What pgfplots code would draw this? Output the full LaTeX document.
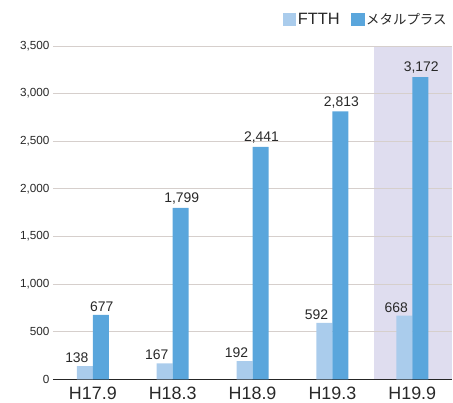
\documentclass[border=0pt]{standalone}
\usepackage{pgfplots}
\pgfplotsset{compat=1.18}
\usepackage{fontspec}
\setmainfont{Liberation Sans}
\newfontfamily\jp{Noto Sans CJK JP}
\definecolor{ftth}{RGB}{170,204,236}
\definecolor{metal}{RGB}{90,166,220}
\definecolor{hl}{RGB}{223,221,239}
\definecolor{gridc}{RGB}{214,207,204}
\definecolor{txt}{RGB}{40,40,40}
\pgfplotsset{sqlegend/.style={legend image code/.code={\fill[##1] (0bp,-6.5bp) rectangle (13.5bp,6.5bp);}}}
\begin{document}
\begin{tikzpicture}
\begin{axis}[
  at={(53bp,21bp)}, anchor=south west,
  set layers,
  scale only axis, width=400bp, height=334bp,
  xmin=-0.5, xmax=4.5, ymin=0, ymax=3500,
  ybar=0pt, bar width=16bp,
  xtick={0,1,2,3,4}, xticklabels={H17.9,H18.3,H18.9,H19.3,H19.9},
  ytick={0,500,...,3500},
  ymajorgrids, grid style={gridc, line width=0.7pt},
  axis lines*=left,
  y axis line style={draw=none},
  x axis line style={line width=1.6pt, black!85},
  major tick length=0pt, tick style={draw=none},
  xticklabel style={font=\fontsize{18}{18}\selectfont, text=txt, yshift=-4bp},
  yticklabel style={font=\fontsize{11.8}{12}\selectfont, text=txt},
  /pgf/number format/assume math mode=true,
  /pgf/number format/1000 sep={,},
  scaled y ticks=false,
  nodes near coords,
  nodes near coords style={font=\fontsize{14}{14}\selectfont, text=txt},
  legend style={at={(1,1)}, anchor=south east, xshift=-4bp, yshift=18bp,
    draw=none, fill=none, legend columns=2, inner sep=0pt,
    font=\fontsize{16.5}{16.5}\selectfont, text=txt,
    nodes={inner sep=1.5bp},
    /tikz/every even column/.append style={column sep=10bp}},
  legend cell align=left,
]
\begin{pgfonlayer}{axis background}
\fill[hl] (axis cs:3.525,0) rectangle (axis cs:4.5,3500);
\end{pgfonlayer}
\addplot[fill=ftth, draw=none, sqlegend, nodes near coords style={xshift=-8bp}] coordinates {(0,138) (1,167) (2,192) (3,592) (4,668)};
\addlegendentry{FTTH}
\addplot[fill=metal, draw=none, sqlegend, nodes near coords style={xshift=1bp}] coordinates {(0,677) (1,1799) (2,2441) (3,2813) (4,3172)};
\addlegendentry{{\jp\fontsize{13.5}{13.5}\selectfont メタルプラス}}
\end{axis}
\path (0,0) rectangle (453bp,401bp);
\end{tikzpicture}
\end{document}
